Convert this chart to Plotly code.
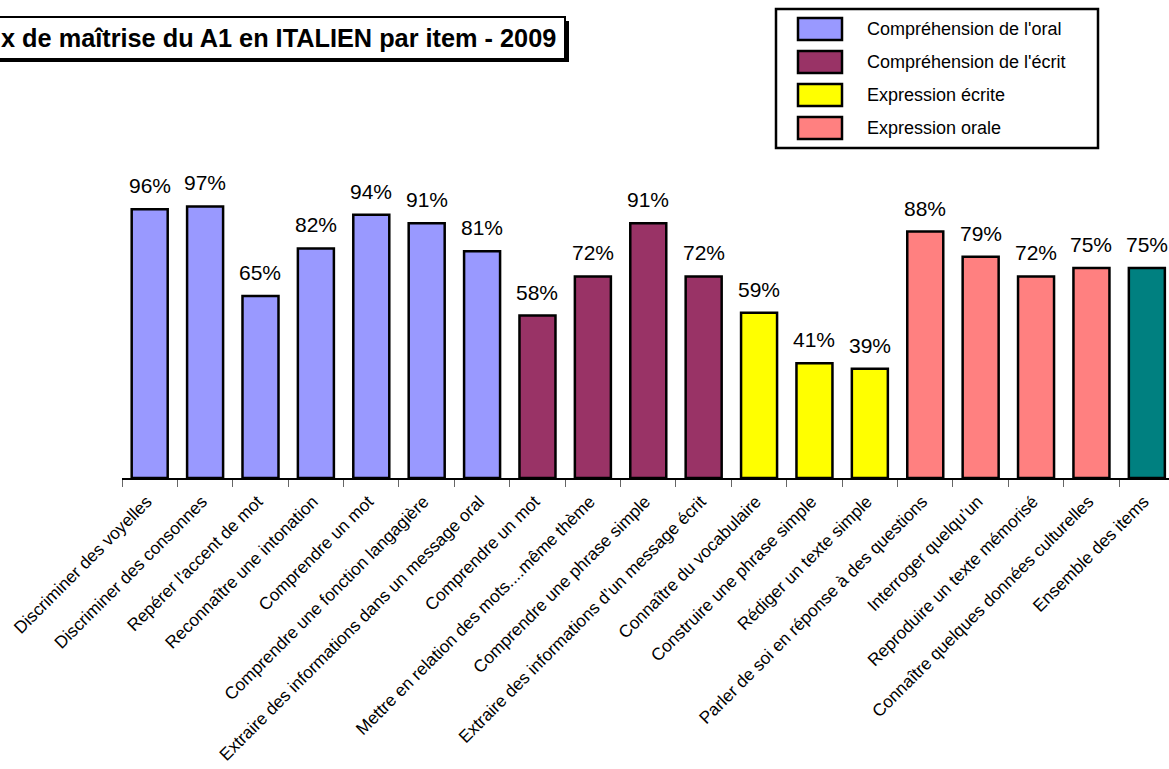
import plotly.graph_objects as go

# Items evaluated, in display order
items = [
    "Discriminer des voyelles",
    "Discriminer des consonnes",
    "Repérer l'accent de mot",
    "Reconnaître une intonation",
    "Comprendre un mot",
    "Comprendre une fonction langagière",
    "Extraire des informations dans un message oral",
    "Comprendre un mot",
    "Mettre en relation des mots....même thème",
    "Comprendre une phrase simple",
    "Extraire des informations d’un message écrit",
    "Connaître du vocabulaire",
    "Construire une phrase simple",
    "Rédiger un texte simple",
    "Parler de soi en réponse à des questions",
    "Interroger quelqu’un",
    "Reproduire un texte mémorisé",
    "Connaître quelques données culturelles",
    "Ensemble des items",
]

# Mastery rate per item (share of pupils)
mastery = [0.96, 0.97, 0.65, 0.82, 0.94, 0.91, 0.81,
           0.58, 0.72, 0.91, 0.72,
           0.59, 0.41, 0.39,
           0.88, 0.79, 0.72, 0.75,
           0.75]

# Skill group of each item
item_group = (["oral"] * 7 + ["ecrit"] * 4 + ["expr_ecrite"] * 3
              + ["expr_orale"] * 4 + ["total"])

group_names = {
    "oral": "Compréhension de l'oral",
    "ecrit": "Compréhension de l'écrit",
    "expr_ecrite": "Expression écrite",
    "expr_orale": "Expression orale",
}
group_colors = {
    "oral": "#9999FF",
    "ecrit": "#993366",
    "expr_ecrite": "#FFFF00",
    "expr_orale": "#FF8080",
    "total": "#008080",
}

title_text = "x de maîtrise du A1 en ITALIEN par item - 2009"

FONT = "Arial, 'Liberation Sans', sans-serif"
W, H = 1169, 769
ML, MT, MB, MR = 122, 170, 291, 0
PW = W - ML - MR
PH = H - MT - MB


def px_x(px):
    return (px - ML) / PW


def px_y(py):
    return (H - MB - py) / PH


xs = list(range(len(items)))

fig = go.Figure()
fig.add_trace(go.Bar(
    x=xs,
    y=mastery,
    marker=dict(color=[group_colors[g] for g in item_group],
                line=dict(color="black", width=2.5)),
    showlegend=False,
    hoverinfo="skip",
))

annotations = []
for x, v in zip(xs, mastery):
    annotations.append(dict(
        x=x, y=v, xref="x", yref="y",
        text=f"{round(v * 100)}%",
        showarrow=False, yanchor="bottom", yshift=10,
        font=dict(family=FONT, size=21, color="black"),
    ))

shapes = []

# Title box with drop shadow
shapes.append(dict(type="rect", xref="paper", yref="paper",
                   x0=px_x(-20), x1=px_x(569), y0=px_y(62), y1=px_y(21),
                   fillcolor="black", line=dict(width=0), layer="above"))
shapes.append(dict(type="rect", xref="paper", yref="paper",
                   x0=px_x(-20), x1=px_x(565), y0=px_y(59), y1=px_y(17),
                   fillcolor="white", line=dict(color="black", width=2),
                   layer="above"))
annotations.append(dict(
    x=px_x(558), y=px_y(38), xref="paper", yref="paper",
    xanchor="right", yanchor="middle", showarrow=False,
    text=f"<b>{title_text}</b>",
    font=dict(family=FONT, size=25.3, color="black"),
))

# Legend box
shapes.append(dict(type="rect", xref="paper", yref="paper",
                   x0=px_x(776), x1=px_x(1098), y0=px_y(148), y1=px_y(9),
                   fillcolor="white", line=dict(color="black", width=2.5),
                   layer="above"))
row_centers = [29, 62, 95, 128]
for key, cy in zip(["oral", "ecrit", "expr_ecrite", "expr_orale"], row_centers):
    shapes.append(dict(type="rect", xref="paper", yref="paper",
                       x0=px_x(798), x1=px_x(842),
                       y0=px_y(cy + 11), y1=px_y(cy - 11),
                       fillcolor=group_colors[key],
                       line=dict(color="black", width=2.5), layer="above"))
    annotations.append(dict(
        x=px_x(865), y=px_y(cy), xref="paper", yref="paper",
        xanchor="left", yanchor="middle", showarrow=False,
        text=group_names[key],
        font=dict(family=FONT, size=18, color="black"),
    ))

fig.update_layout(
    template="none",
    width=W, height=H,
    margin=dict(l=ML, r=MR, t=MT, b=MB, pad=0),
    paper_bgcolor="white", plot_bgcolor="white",
    bargap=0.35,
    showlegend=False,
    annotations=annotations,
    shapes=shapes,
    font=dict(family=FONT, color="black"),
)
fig.update_xaxes(
    range=[-0.5, 18.4],
    tickmode="array", tickvals=xs, ticktext=items,
    tickangle=-45,
    ticks="outside", ticklen=0,
    ticklabelstandoff=5, ticklabelshift=-3,
    tickfont=dict(family=FONT, size=17.3, color="black"),
    showline=True, linecolor="black", linewidth=1.5,
    showgrid=False, zeroline=False,
    minor=dict(tickmode="linear", tick0=-0.5, dtick=1, ticks="outside",
               ticklen=7, tickcolor="#666666", tickwidth=1, showgrid=False),
)
fig.update_yaxes(
    range=[0, 1.1],
    showticklabels=False, showgrid=False, zeroline=False,
    showline=False, ticks="",
)

fig.write_html("out.html")
